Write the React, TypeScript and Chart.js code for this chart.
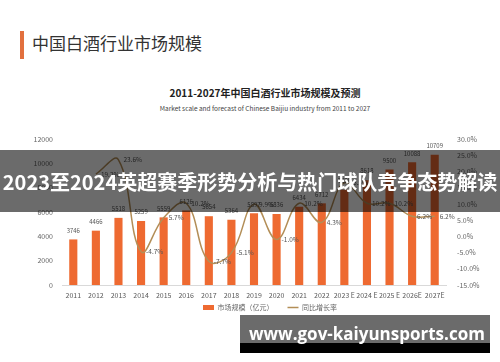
import React, { useEffect, useRef } from 'react';
import { Chart, registerables } from 'chart.js';

Chart.register(...registerables);

const FONT = '"Noto Sans CJK SC", "Noto Sans", sans-serif';

const years = ['2011', '2012', '2013', '2014', '2015', '2016', '2017', '2018', '2019', '2020', '2021', '2022', '2023 E', '2024 E', '2025 E', '2026E', '2027E'];
const marketSize = [3746, 4466, 5518, 5259, 5559, 6126, 5654, 5364, 5897, 5836, 6434, 6712, 7820, 8618, 9500, 10088, 10709];
const growthRate = [null, 19.2, 23.6, -4.7, 5.7, 10.2, -7.7, -5.1, 9.9, -1.0, 10.2, 4.3, 16.5, 10.2, 10.2, 6.2, 6.2];
const leftTicks = [0, 2000, 4000, 6000, 8000, 10000, 12000];
const rightTicks = [-15, -10, -5, 0, 5, 10, 15, 20, 25, 30];

const BAR_COLOR = '#ee6a31';
const LINE_COLOR = '#b38e57';

const labelPlugin = {
  id: 'valueLabels',
  afterDatasetsDraw(chart: any) {
    const ctx = chart.ctx;
    ctx.save();
    ctx.fillStyle = '#555';
    ctx.font = `6px ${FONT}`;
    ctx.textAlign = 'center';
    ctx.textBaseline = 'middle';
    chart.getDatasetMeta(0).data.forEach((el: any, i: number) => {
      ctx.fillText(String(marketSize[i]), el.x, el.y - 9);
    });
    ctx.font = `6.5px ${FONT}`;
    ctx.textAlign = 'left';
    chart.getDatasetMeta(1).data.forEach((el: any, i: number) => {
      const v = growthRate[i];
      if (v == null) return;
      ctx.fillText(v.toFixed(1) + '%', el.x + 5, el.y);
    });
    ctx.restore();
  },
};

const legendShift = {
  id: 'legendShift',
  afterLayout(chart: any) {
    const l = chart.legend;
    if (l) {
      l.left += 20;
      l.right += 20;
      l.top -= 13;
      l.bottom -= 13;
    }
  },
};

export default function App() {
  const ref = useRef<HTMLCanvasElement | null>(null);

  useEffect(() => {
    document.body.style.margin = '0';
    const canvas = ref.current;
    if (!canvas) return;
    const chart = new Chart(canvas, {
      type: 'bar',
      data: {
        labels: years,
        datasets: [
          {
            type: 'bar',
            label: '市场规模（亿元）',
            data: marketSize,
            backgroundColor: BAR_COLOR,
            borderWidth: 0,
            yAxisID: 'y',
            categoryPercentage: 1,
            barPercentage: 0.36,
            order: 1,
          },
          {
            type: 'line',
            label: '同比增长率',
            data: growthRate as any,
            borderColor: LINE_COLOR,
            backgroundColor: LINE_COLOR,
            borderWidth: 1.5,
            pointRadius: 0,
            tension: 0.4,
            yAxisID: 'y1',
            order: 0,
          },
        ],
      },
      options: {
        responsive: false,
        animation: false,
        devicePixelRatio: 1,
        layout: { padding: { top: 139, bottom: 28, left: 0, right: 0 } },
        scales: {
          x: {
            grid: { display: false, drawTicks: false },
            border: { display: true, color: '#d9d9d9' },
            ticks: { font: { size: 7, family: FONT }, color: '#595959', padding: 6, maxRotation: 0, minRotation: 0, autoSkip: false },
            afterFit: (s: any) => { s.height = 18; },
          },
          y: {
            position: 'left',
            min: 0,
            max: 12000,
            afterBuildTicks: (s: any) => { s.ticks = leftTicks.map((v) => ({ value: v })); },
            grid: { display: false, drawTicks: false },
            border: { display: false },
            ticks: { font: { size: 7, family: FONT }, color: '#666', padding: 9, callback: (v: any) => String(v) },
            afterFit: (s: any) => { s.width = 62; },
          },
          y1: {
            position: 'right',
            min: -15,
            max: 30,
            afterBuildTicks: (s: any) => { s.ticks = rightTicks.map((v) => ({ value: v })); },
            grid: { display: false, drawTicks: false },
            border: { display: false },
            ticks: {
              font: { size: 7, family: FONT },
              color: '#666',
              padding: 11,
              callback: (v: any) => Number(v).toFixed(1) + '%',
            },
            afterFit: (s: any) => { s.width = 54; },
          },
        },
        plugins: {
          title: { display: false },
          tooltip: { enabled: false },
          legend: {
            position: 'bottom',
            labels: {
              usePointStyle: true,
              pointStyleWidth: 11,
              boxHeight: 5,
              padding: 14,
              color: '#666',
              font: { size: 7, family: FONT },
              generateLabels: (c: any) => {
                const items = (Chart.defaults.plugins.legend.labels.generateLabels as any)(c);
                items.sort((a: any, b: any) => a.datasetIndex - b.datasetIndex);
                items.forEach((it: any) => {
                  if (it.datasetIndex === 0) {
                    it.pointStyle = 'rect';
                    it.lineWidth = 0;
                  } else {
                    it.pointStyle = 'line';
                    it.lineWidth = 1.5;
                    it.strokeStyle = LINE_COLOR;
                  }
                });
                return items;
              },
            },
          },
        },
      },
      plugins: [labelPlugin, legendShift],
    } as any);
    return () => chart.destroy();
  }, []);

  return (
    <div style={{ position: 'fixed', left: 0, top: 0, width: 500, height: 362, background: '#fff', overflow: 'hidden', fontFamily: FONT }}>
      <div style={{ position: 'absolute', left: 20, top: 31, width: 4, height: 28, background: '#e2703e' }} />
      <div style={{ position: 'absolute', left: 32, top: 32, fontSize: 17, lineHeight: '22px', color: '#333', whiteSpace: 'nowrap' }}>
        中国白酒行业市场规模
      </div>
      <div style={{ position: 'absolute', left: 15, top: 86, width: 500, textAlign: 'center', fontSize: 10, fontWeight: 700, lineHeight: '14px', color: '#222', whiteSpace: 'nowrap' }}>
        2011-2027年中国白酒行业市场规模及预测
      </div>
      <div style={{ position: 'absolute', left: 15, top: 103, width: 500, textAlign: 'center', fontSize: 6.5, lineHeight: '10px', color: '#444', whiteSpace: 'nowrap' }}>
        Market scale and forecast of Chinese Baijiu industry from 2011 to 2027
      </div>
      <canvas ref={ref} width={500} height={362} style={{ position: 'absolute', left: 0, top: 0, width: 500, height: 362 }} />
      <div style={{ position: 'absolute', left: 0, top: 150, width: 500, height: 62, background: 'rgba(0,0,0,0.58)', display: 'flex', alignItems: 'center', justifyContent: 'center' }}>
        <span style={{ color: '#fff', fontWeight: 700, fontSize: 20, whiteSpace: 'nowrap', fontFamily: FONT }}>
          2023至2024英超赛季形势分析与热门球队竞争态势解读
        </span>
      </div>
      <div style={{ position: 'absolute', left: 240, top: 315, width: 250, height: 28, background: 'rgba(0,0,0,0.58)' }} />
      <div style={{ position: 'absolute', left: 240, top: 343, width: 250, height: 10, background: '#000' }} />
      <div style={{ position: 'absolute', left: 249, top: 322, fontSize: 17, lineHeight: '24px', fontWeight: 700, color: '#fff', whiteSpace: 'nowrap', fontFamily: '"Open Sans", "Noto Sans", sans-serif' }}>
        www.gov-kaiyunsports.com
      </div>
    </div>
  );
}
